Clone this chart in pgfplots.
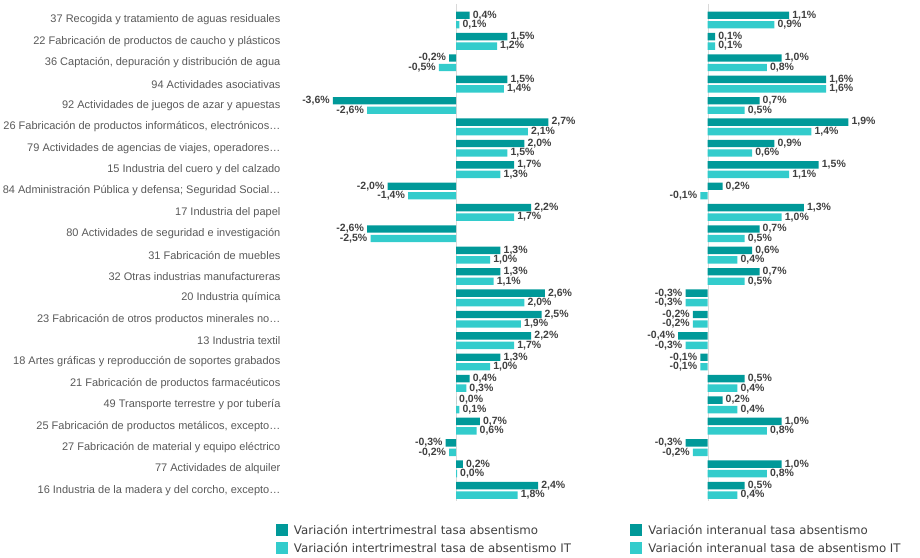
\documentclass[border=0pt]{standalone}
\usepackage{pgfplots}
\pgfplotsset{compat=1.18}
\usepackage{pgfplotstable}
\usepackage{fontspec}
\setmainfont{Liberation Sans}
\newfontfamily\legendfont{DejaVu Sans}

\definecolor{darkteal}{RGB}{0,153,153}
\definecolor{lightteal}{RGB}{51,204,204}
\definecolor{labelgray}{RGB}{89,89,89}
\definecolor{valgray}{RGB}{64,64,64}
\definecolor{zeroline}{RGB}{217,217,217}

% idx: fila desde arriba; ld/ll: intertrimestral; rd/rl: interanual
\pgfplotstableread{
idx ld ll rd rl
0 0.4 0.1 1.1 0.9
1 1.5 1.2 0.1 0.1
2 -0.2 -0.5 1.0 0.8
3 1.5 1.4 1.6 1.6
4 -3.6 -2.6 0.7 0.5
5 2.7 2.1 1.9 1.4
6 2.0 1.5 0.9 0.6
7 1.7 1.3 1.5 1.1
8 -2.0 -1.4 0.2 -0.1
9 2.2 1.7 1.3 1.0
10 -2.6 -2.5 0.7 0.5
11 1.3 1.0 0.6 0.4
12 1.3 1.1 0.7 0.5
13 2.6 2.0 -0.3 -0.3
14 2.5 1.9 -0.2 -0.2
15 2.2 1.7 -0.4 -0.3
16 1.3 1.0 -0.1 -0.1
17 0.4 0.3 0.5 0.4
18 0.0 0.1 0.2 0.4
19 0.7 0.6 1.0 0.8
20 -0.3 -0.2 -0.3 -0.2
21 0.2 0.03 1.0 0.8
22 2.4 1.8 0.5 0.4
}\datos

\pgfplotsset{
  panel/.style={
    scale only axis,
    height=491.7pt,
    ymin=-0.5, ymax=22.5,
    y dir=reverse,
    xbar,
    bar width=7.4pt,
    axis line style={draw=none},
    tick style={draw=none},
    xtick=\empty,
    point meta=x,
    nodes near coords={\pgfmathprintnumber[fixed,fixed zerofill,precision=1,use comma,assume math mode=true]{\pgfplotspointmeta}\%},
    nodes near coords align=horizontal,
    every node near coord/.append style={font=\fontsize{10.5}{12}\selectfont\bfseries, text=valgray, inner sep=3pt},
    legend style={draw=none, fill=none, anchor=north west,
      font=\legendfont\fontsize{11.8}{13}\selectfont, text=valgray,
      cells={anchor=west}, row sep=3pt},
    legend image code/.code={\fill[##1] (0pt,-6pt) rectangle (12pt,6pt); \path (16pt,0pt);},
    clip=false,
  },
}

\begin{document}
\begin{tikzpicture}
\path[use as bounding box] (0pt,0pt) rectangle (920pt,557pt);

\begin{axis}[panel,
    at={(319.2pt,56pt)}, anchor=south west,
    width=273.6pt, xmin=-4, xmax=4,
    ytick={0,...,22},
    yticklabel style={font=\fontsize{11}{13}\selectfont, text=labelgray, xshift=-31pt},
    yticklabels={
      37 Recogida y tratamiento de aguas residuales,
      22 Fabricación de productos de caucho y plásticos,
      {36 Captación, depuración y distribución de agua},
      94 Actividades asociativas,
      92 Actividades de juegos de azar y apuestas,
      {26 Fabricación de productos informáticos, electrónicos…},
      {79 Actividades de agencias de viajes, operadores…},
      15 Industria del cuero y del calzado,
      84 Administración Pública y defensa; Seguridad Social…,
      17 Industria del papel,
      80 Actividades de seguridad e investigación,
      31 Fabricación de muebles,
      32 Otras industrias manufactureras,
      20 Industria química,
      23 Fabricación de otros productos minerales no…,
      13 Industria textil,
      18 Artes gráficas y reproducción de soportes grabados,
      21 Fabricación de productos farmacéuticos,
      49 Transporte terrestre y por tubería,
      {25 Fabricación de productos metálicos, excepto…},
      27 Fabricación de material y equipo eléctrico,
      77 Actividades de alquiler,
      {16 Industria de la madera y del corcho, excepto…}
    },
    legend style={at={(-0.17,-0.04)}},
  ]
  \draw[zeroline] (axis cs:0,-0.75) -- (axis cs:0,22.5);
  \addplot[fill=darkteal, draw=none, bar shift=4.75pt] table[x=ld, y=idx] {\datos};
  \addlegendentry{Variación intertrimestral tasa absentismo}
  \addplot[fill=lightteal, draw=none, bar shift=-4.75pt] table[x=ll, y=idx] {\datos};
  \addlegendentry{Variación intertrimestral tasa de absentismo IT}
\end{axis}

\begin{axis}[panel,
    at={(633.7pt,56pt)}, anchor=south west,
    width=259pt, xmin=-1, xmax=2.5,
    ytick=\empty,
    legend style={at={(-0.025,-0.04)}},
  ]
  \draw[zeroline] (axis cs:0,-0.75) -- (axis cs:0,22.5);
  \addplot[fill=darkteal, draw=none, bar shift=4.75pt] table[x=rd, y=idx] {\datos};
  \addlegendentry{Variación interanual tasa absentismo}
  \addplot[fill=lightteal, draw=none, bar shift=-4.75pt] table[x=rl, y=idx] {\datos};
  \addlegendentry{Variación interanual tasa de absentismo IT}
\end{axis}
\end{tikzpicture}
\end{document}
